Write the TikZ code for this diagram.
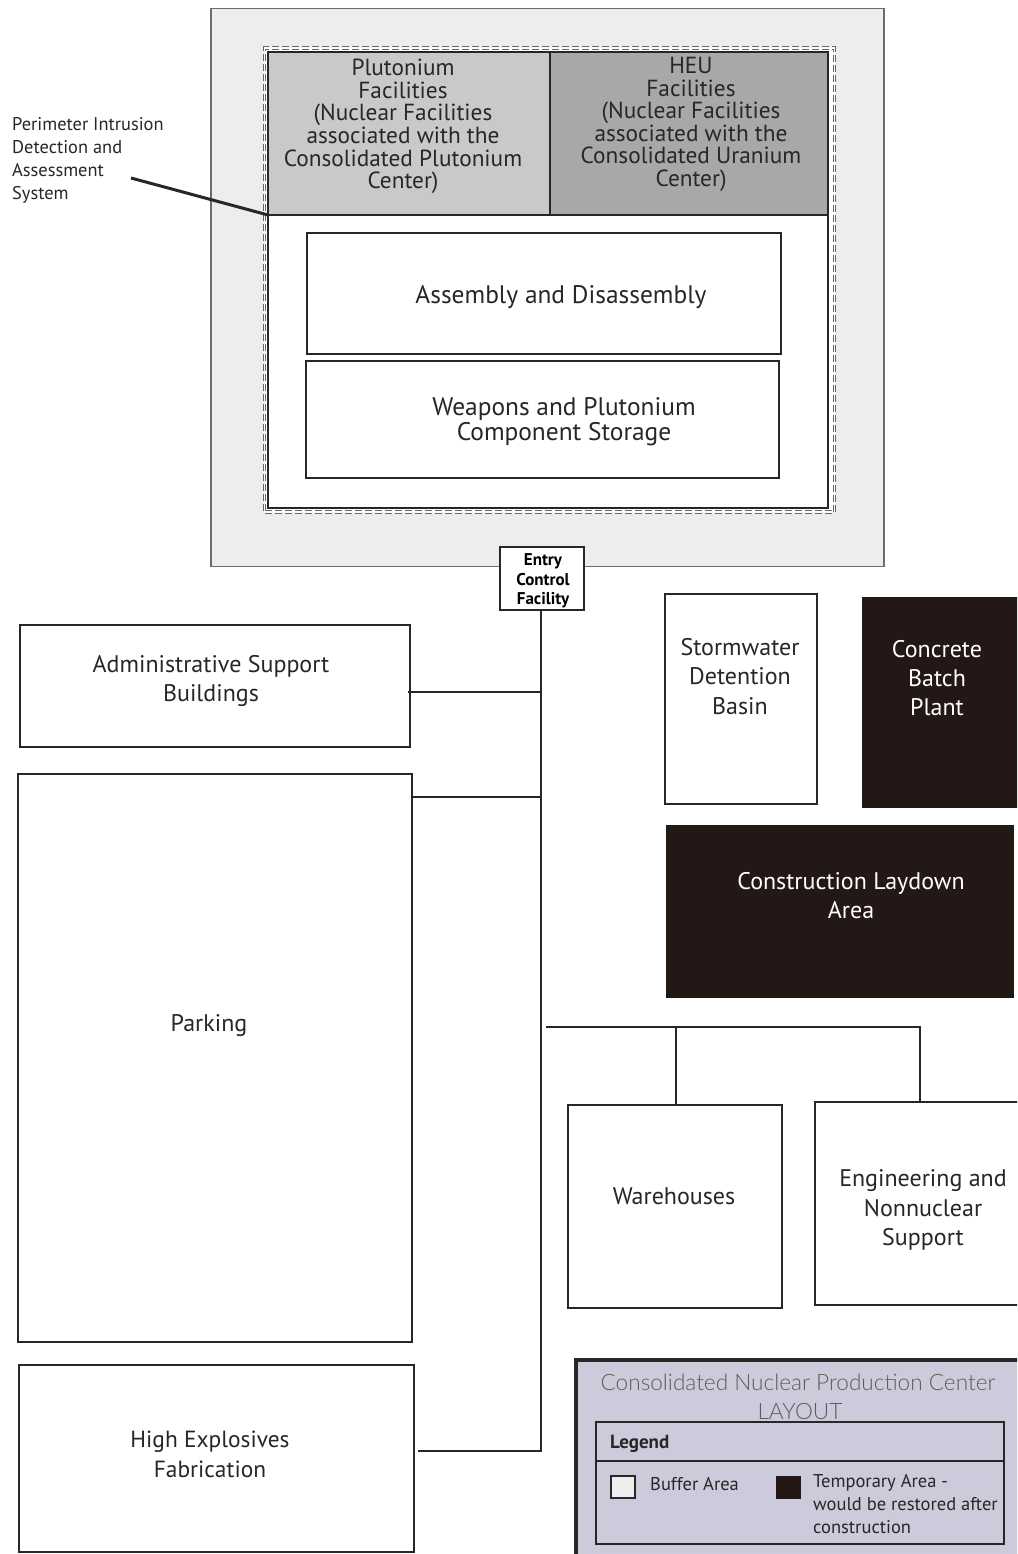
\documentclass[tikz,border=0pt]{standalone}
\usepackage{fontspec}
\setmainfont{PT Sans}
\newfontfamily\titlefont{Lato Light}
\definecolor{bufferc}{HTML}{EDEDED}
\definecolor{puc}{HTML}{C9C9C9}
\definecolor{heuc}{HTML}{A8A8A8}
\definecolor{darkc}{HTML}{231815}
\definecolor{legc}{HTML}{CCCBDB}
\definecolor{inkc}{HTML}{2A2526}
\tikzset{
  anyshape/.style={rectangle,outer sep=0pt,inner sep=0pt,anchor=north west},
  whitebox/.style={anyshape,draw=inkc,line width=2pt,fill=white},
  darkbox/.style={anyshape,fill=darkc},
  conn/.style={draw=inkc,line width=2.6pt},
  biglabel/.style={align=center,text=inkc,font=\fontsize{24}{29.4}\selectfont,inner sep=0pt},
  midlabel/.style={align=center,text=inkc,font=\fontsize{23.3}{22.6}\selectfont,inner sep=0pt},
  wlabel/.style={align=center,text=inkc,font=\fontsize{25.4}{25}\selectfont,inner sep=0pt},
  sidelabel/.style={align=left,text=inkc,font=\fontsize{18.4}{23}\selectfont,inner sep=0pt,anchor=north west},
  leglabel/.style={align=left,text=inkc,font=\fontsize{18.5}{23}\selectfont,inner sep=0pt,anchor=north west},
}
\begin{document}
\begin{tikzpicture}[x=1pt,y=-1pt]
\useasboundingbox (0,0) rectangle (1017,1554);
\clip (0,0) rectangle (1017,1554);
% buffer area
\node[anyshape,draw=gray!85!black,line width=1.2pt,fill=bufferc,minimum width=673pt,minimum height=558pt] (buffer) at (211,8.5) {};
\node[anyshape,draw=gray!80!black,double=white,double distance=1.4pt,line width=1.1pt,dash pattern=on 7pt off 3pt,fill=white,minimum width=570pt,minimum height=464pt] (pida) at (264.5,48) {};
\node[whitebox,line width=2.6pt,minimum width=560pt,minimum height=456pt] (inner) at (268,52) {};
\node[whitebox,line width=2.2pt,fill=puc,minimum width=282pt,minimum height=163pt] (pu) at (268,52) {};
\node[whitebox,line width=2.2pt,fill=heuc,minimum width=278pt,minimum height=163pt] (heu) at (550,52) {};
\node[midlabel] (pul) at (403,126.5) {Plutonium\\Facilities\\(Nuclear Facilities\\associated with the\\Consolidated Plutonium\\Center)};
\node[midlabel] (heul) at (691,124.5) {HEU\\Facilities\\(Nuclear Facilities\\associated with the\\Consolidated Uranium\\Center)};
\node[whitebox,minimum width=474pt,minimum height=121pt] (asm) at (307,233) {};
\node[wlabel] (asml) at (561,297) {Assembly and Disassembly};
\node[whitebox,minimum width=473pt,minimum height=117pt] (wps) at (306,361) {};
\node[wlabel] (wpsl) at (564,421.5) {Weapons and Plutonium\\Component Storage};
% perimeter label
\node[sidelabel] (peri) at (12,117) {Perimeter Intrusion\\Detection and\\Assessment\\System};
\coordinate (perifrom) at (131,178);
\draw[conn,line width=3pt] (perifrom) -- (inner.west |- pu.south west);
% entry
\node[whitebox,minimum width=84pt,minimum height=63pt] (ecf) at (499.5,547) {};
\node[align=center,inner sep=0pt,text=black,font=\bfseries\fontsize{17}{19.4}\selectfont] (ecfl) at (543,581) {Entry\\Control\\Facility};
% left column
\node[whitebox,minimum width=390pt,minimum height=122pt] (admin) at (20,625) {};
\node[biglabel] (adminl) at (211,681) {Administrative Support\\Buildings};
\node[whitebox,minimum width=394pt,minimum height=568pt] (park) at (18,774) {};
\node[biglabel] (parkl) at (209,1025.5) {Parking};
\node[whitebox,minimum width=395pt,minimum height=187pt] (he) at (19,1365) {};
\node[biglabel,font=\fontsize{23.4}{29.4}\selectfont] (hel) at (210,1454.5) {High Explosives\\Fabrication};
% right column
\node[whitebox,minimum width=152pt,minimum height=210pt] (storm) at (665,594) {};
\node[biglabel] (storml) at (740,676.5) {Stormwater\\Detention\\Basin};
\node[darkbox,minimum width=156pt,minimum height=211pt] (batch) at (862,597) {};
\node[biglabel,text=white] (batchl) at (937,678) {Concrete\\Batch\\Plant};
\node[darkbox,minimum width=348pt,minimum height=173pt] (lay) at (666,825) {};
\node[biglabel,text=white] (layl) at (851,895.5) {Construction Laydown\\Area};
\node[whitebox,minimum width=214pt,minimum height=203pt] (ware) at (568,1105) {};
\node[biglabel] (warel) at (674,1196) {Warehouses};
\node[whitebox,minimum width=210pt,minimum height=203pt] (eng) at (815,1102) {};
\node[biglabel] (engl) at (923,1210) {Engineering and\\Nonnuclear\\Support};
% connectors
\coordinate (trunkhe) at (541,1451);
\coordinate (trunkadmin) at (541,692);
\coordinate (trunkpark) at (541,797);
\coordinate (adminend) at (408,692);
\coordinate (parkend) at (412,797);
\coordinate (heend) at (418,1451);
\coordinate (ecfout) at (541,610);
\coordinate (branchstart) at (546,1027);
\coordinate (branchmid) at (676,1027);
\coordinate (branchend) at (920,1027);
\draw[conn] (ecfout) -- (trunkhe) -- (heend);
\draw[conn] (adminend) -- (trunkadmin);
\draw[conn] (parkend) -- (trunkpark);
\draw[conn] (branchstart) -- (branchend) -- (branchend |- eng.north);
\draw[conn] (branchmid) -- (branchmid |- ware.north);
% legend
\node[anyshape,draw=inkc,line width=3.8pt,fill=legc,minimum width=445pt,minimum height=205pt] (legout) at (576,1360) {};
\node[align=center,inner sep=0pt,text=inkc!75,font=\titlefont\fontsize{22.6}{29}\selectfont] (legt) at (798,1396.5) {Consolidated Nuclear Production Center\\\hspace*{4pt}LAYOUT};
\node[anyshape,draw=inkc,line width=2.4pt,minimum width=408pt,minimum height=122pt] (legin) at (596,1422) {};
\coordinate (legsepl) at (595,1461);
\draw[draw=inkc,line width=1.8pt] (legsepl) -- (legin.east |- legsepl);
\node[leglabel,font=\bfseries\fontsize{19}{23}\selectfont] (legh) at (610,1435) {Legend};
\node[anyshape,draw=inkc,line width=1.6pt,fill=bufferc,minimum width=24pt,minimum height=22pt] (sw1) at (611,1476) {};
\node[leglabel] (sw1l) at (650,1477) {Buffer Area};
\node[darkbox,minimum width=25pt,minimum height=23pt] (sw2) at (776,1476) {};
\node[leglabel] (sw2l) at (813,1474) {Temporary Area -\\would be restored after\\construction};
\end{tikzpicture}
\end{document}
